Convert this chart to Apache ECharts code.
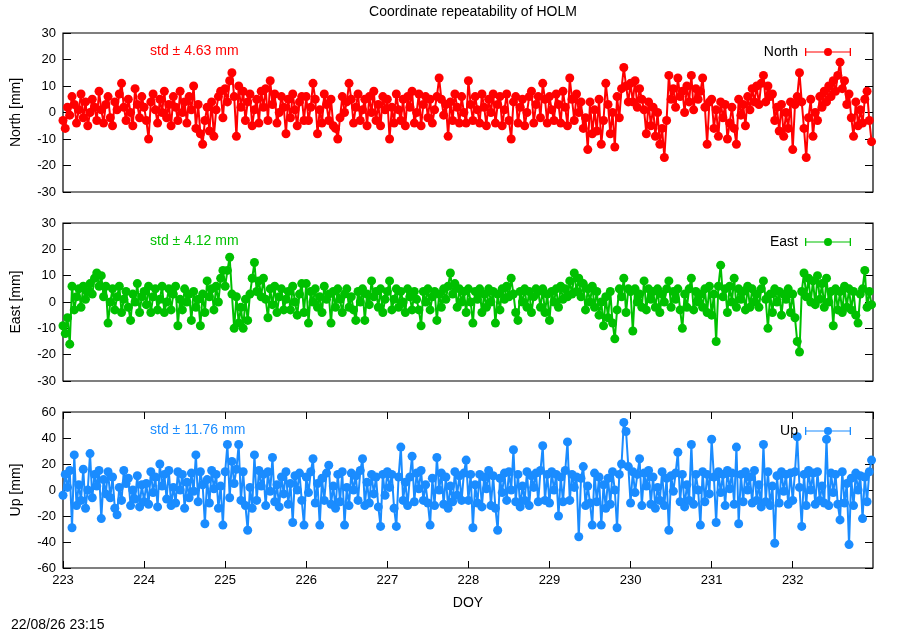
<!DOCTYPE html>
<html>
<head>
<meta charset="utf-8">
<script src="https://cdn.jsdelivr.net/npm/echarts@6/dist/echarts.min.js"></script>
<style>
  html, body { margin: 0; padding: 0; background: #fff; }
  #chart { width: 900px; height: 630px; }
</style>
</head>
<body>
<div id="chart"></div>
<script>
// DOY axis: 40-minute samples starting at day 223
var startDoy = 223;
var samplesPerDay = 36;
var dayTicks = [223, 224, 225, 226, 227, 228, 229, 230, 231, 232];

// North residuals [mm], one row per day
var north = [].concat(
  [-3, -6, 2, -1, 6, 3, -4, 1, 7, -2, 4, -5, 0, 5, 2, -3, 8, 1, -4, 3, 6, -2, -5, 4, 1, 7, 11, 2, -3, 5, 0, -5, 9, 3, -2, 6],
  [2, -3, -10, 4, 7, 1, -4, 5, 0, 8, -2, 3, -5, 6, 2, -3, 8, 0, 4, -4, 6, 1, 10, -6, 3, -8, -12, -3, 2, -7, 4, -9, 1, 6, 8, -2],
  [9, 4, 12, 15, 6, -9, 10, 2, 8, -3, 4, 7, -5, 1, 5, -4, 8, 2, 9, -3, 12, 3, 7, -4, 0, 6, 2, -8, 5, -2, 7, 1, -5, 4, 6, -3],
  [6, -3, 2, 11, 5, -8, 1, -4, 7, 3, -3, 5, -5, -6, -10, -2, 6, 0, 4, 11, 5, -4, 2, 7, -3, 1, 5, -5, 6, 0, 8, -3, 3, -5, 6, 1],
  [5, -10, 2, -4, 7, 1, -3, 5, -5, 6, 2, 8, -4, 0, 7, -5, 3, 6, -2, 5, -4, 1, 6, 13, 5, -1, 3, -9, 4, -3, 7, 2, -4, 6, 0, -4],
  [12, 3, -3, 6, 1, -4, 7, 2, -5, 5, 0, 7, -4, 3, 6, -5, 1, 7, -3, -10, 4, 6, -4, 2, 5, -5, 0, 6, 8, -4, 3, 6, -2, 11, 5, -4],
  [6, 1, -3, 7, 3, -4, 8, 2, -5, 13, 5, -3, 7, 0, 4, -6, -2, -14, 4, -8, 1, -7, 5, -12, -3, 11, 3, -8, 0, -13, 6, -2, 9, 17, 10, 4],
  [11, 4, 12, 2, 9, 5, 1, -8, 4, -5, 2, -9, 0, -12, -6, -17, -3, 14, 5, 9, 2, 13, 6, 8, 0, 10, 4, 14, 1, 9, 5, 8, 13, 2, -12, 4],
  [5, -6, 1, -9, 4, -2, 3, -10, -4, 2, -6, -12, 5, -1, 3, -5, 6, 1, 9, 4, 10, 3, 11, 14, 4, 10, 6, 7, -3, 2, -7, 3, -9, 0, -6, 4],
  [-14, 3, 6, 15, 4, -6, -17, -2, 5, -9, 0, -3, 6, 2, 8, 4, 10, 6, 12, 8, 14, 19, 9, 12, 3, 7, -2, -9, 4, -5, 1, -4, 5, 8, -3, -11]
);

// East residuals [mm]
var east = [].concat(
  [-9, -12, -6, -16, 6, -3, 2, 5, -2, 6, 1, 4, 7, 3, 9, 11, 6, 10, 2, 6, -8, 0, 5, -3, 2, 6, -4, 1, 4, -2, -7, 3, 0, 7, -4, 2],
  [4, -1, 6, -4, 2, 5, -3, 1, 6, -4, 0, 5, -3, 3, 6, -9, 1, -3, 5, 0, 3, -7, 4, -2, 1, -9, 3, -4, 8, 2, 5, -3, 6, 0, 9, 12],
  [6, 12, 17, 3, -10, 2, -8, -2, -10, 1, -7, 3, 9, 15, 4, 8, 2, 9, 1, -6, 5, -1, 6, -4, 2, 5, -3, 1, 4, -3, 6, 0, -5, 3, 7, -4],
  [7, -8, 4, 0, 5, -2, 2, -4, 6, 1, 3, -8, 4, -2, 5, 1, -4, 3, 5, -2, 2, -3, -7, 4, 0, 5, -7, 3, -1, 8, 2, 4, -2, 5, -4, 1],
  [4, 8, -3, 1, 5, -2, 4, 0, -4, 5, 2, -3, 4, 1, -3, -9, 4, 0, 5, -3, 2, 4, -7, 3, -2, 5, 1, 6, 11, 3, 7, -2, 5, 0, 4, -4],
  [5, 0, -8, 4, 1, 5, -4, 3, -2, 5, 0, 4, -8, 3, -3, 5, 1, 6, 2, 9, 3, -4, -7, 4, 0, 5, -2, 4, -4, 2, 5, 4, -2, 5, -4, 3],
  [-7, 4, 0, 5, -2, 6, 1, 5, 2, 8, 3, 11, 4, 9, 2, 7, -3, 5, 0, 6, -2, 4, -5, 0, -9, 2, -6, 4, -8, -14, -3, 5, 2, 9, -4, 5],
  [4, -11, 5, 0, 3, -2, 8, -3, 5, 1, 4, -2, 5, -4, 3, 0, 5, 8, -2, 4, 1, 5, -3, -10, 3, -2, 5, 9, -3, 4, 0, 3, -2, 5, -4, 6],
  [-5, 3, -15, 6, 14, 2, 5, -4, 6, 0, 9, -2, 5, 1, 4, -3, 6, -2, 5, 0, 3, -2, 5, 8, 1, -10, 3, -4, 5, 0, 4, -5, 3, 1, 5, -4],
  [3, -6, -15, -19, 4, 11, 2, 9, 0, 8, -1, 10, 1, 7, -2, 9, 0, 4, -9, 5, -3, 4, -4, 6, -2, 5, -3, 4, -5, -8, 3, 5, 12, -2, 4, -1]
);

// Up residuals [mm]
var up = [].concat(
  [-4, 12, 2, 15, -29, 27, -12, 4, -8, 16, -14, 0, 28, -6, 12, 3, 15, -22, 8, -3, 14, -6, 10, -14, -19, 2, -8, 15, 5, 9, -12, 0, -7, 11, -13, 4],
  [-9, 5, -11, 14, -2, 10, -13, 20, 3, 12, -7, 15, -12, 2, -10, 14, 0, 12, -14, 6, -6, 13, -1, 27, -9, 14, 4, -26, 8, -10, 15, 1, 12, -14, 3, -27],
  [14, 35, -6, 22, 5, 16, 35, -8, 14, -12, -31, 2, -14, 27, -8, 15, 3, 12, -12, 14, -1, 25, -9, 4, -13, 10, -3, 14, -11, 5, -25, 11, 0, 13, -8, -27],
  [10, -2, 14, 24, -10, 5, -27, 9, -8, 13, 19, -11, 3, -14, 12, -9, 14, -27, 2, -12, 13, 0, 11, -8, 15, 24, -12, 6, -10, 12, -3, 10, -13, -28, 12, -4],
  [14, 2, 12, -14, -28, 10, 33, -8, 6, -12, 10, 26, -9, 13, 1, 15, -8, 4, -10, -27, 9, -12, 25, 0, 13, -11, 10, -14, 3, -9, 14, -4, 11, -8, 13, 23],
  [-8, 12, -29, 4, -10, 12, -13, 10, 1, 15, -12, 11, -14, -31, 9, -2, 13, -8, 14, 0, 31, -9, 12, -13, 3, -8, 14, -12, 11, 2, 13, -9, 15, 34, -8, 12],
  [-10, 14, 0, 12, -20, 10, -9, 15, 37, -8, 12, 2, 10, -36, 9, 18, -12, 3, -10, -27, 13, -9, 10, -27, 4, -14, 9, -11, 14, 0, -29, 12, 20, 52, 45, 18],
  [-10, 14, -2, 12, 24, -12, 13, 3, 15, -11, 10, -14, 2, -8, 14, -12, 9, -31, 11, -1, 13, 29, -9, 12, -13, 4, -8, 35, -11, 12, 0, -27, 14, -9, 12, -3],
  [39, 10, -25, 14, -2, 12, -12, 15, 1, 13, -11, 33, -26, 12, -9, 14, 0, 10, -10, 15, -8, 4, -13, 35, -9, 14, -12, 3, -41, 11, -10, 14, -1, 12, -11, 13],
  [-8, 14, 41, 2, -28, 12, -12, 15, 0, 13, -11, 14, -8, 3, -10, 39, -12, 13, -2, 12, -11, -23, 14, -10, 5, -42, 9, -12, 13, 0, 11, -22, 10, -9, 14, 23]
);

var names = ['North', 'East', 'Up'];
var colors = ['#ff0000', '#00c000', '#1a8cff'];
var stds = ['4.63', '4.12', '11.76'];
var yLimits = [30, 30, 60];
var yIntervals = [10, 10, 20];

var font = 'Liberation Sans, Arial, sans-serif';
var panelTops = [33, 223, 412];
var panelHeights = [159, 158, 156];

function toPairs(values) {
  return values.map(function (v, i) {
    return [startDoy + i / samplesPerDay, v];
  });
}

var myChart = echarts.init(document.getElementById('chart'));

var grids = [], xAxes = [], yAxes = [], series = [], legends = [], titles = [];
var allData = [north, east, up];

// errorbar-like legend sample: line, end caps, dot
var errIcon = 'path://M0,4.4H46V5.6H0Z M0,1H1.3V9H0Z M44.7,1H46V9H44.7Z M19,5A4,4 0 1,1 27,5A4,4 0 1,1 19,5Z';

names.forEach(function (name, idx) {
  var last = idx === names.length - 1;
  grids.push({
    left: 63, width: 810, top: panelTops[idx], height: panelHeights[idx],
    show: true, borderColor: '#000', borderWidth: 1.2, backgroundColor: 'transparent'
  });
  xAxes.push({
    gridIndex: idx, type: 'value', min: dayTicks[0], max: 232.99, interval: 1,
    position: 'bottom',
    axisLine: { show: false, onZero: false },
    splitLine: { show: false },
    axisTick: { show: last, inside: true, length: 7, lineStyle: { color: '#000' } },
    axisLabel: {
      show: last, showMaxLabel: false, color: '#000', fontFamily: font, fontSize: 13, margin: 6,
      formatter: function (v) { return Math.round(v); }
    },
    name: last ? 'DOY' : '', nameLocation: 'middle', nameGap: 28,
    nameTextStyle: { color: '#000', fontFamily: font, fontSize: 14 }
  });
  yAxes.push({
    gridIndex: idx, type: 'value', min: -yLimits[idx], max: yLimits[idx], interval: yIntervals[idx],
    position: 'left',
    axisLine: { show: false, onZero: false }, splitLine: { show: false },
    axisTick: { show: true, inside: true, length: 8, lineStyle: { color: '#000' } },
    axisLabel: { color: '#000', fontFamily: font, fontSize: 13, margin: 7 },
    name: name + ' [mm]', nameLocation: 'middle', nameGap: 40, nameRotate: 90,
    nameTextStyle: { color: '#000', fontFamily: font, fontSize: 14 }
  });
  yAxes.push({
    gridIndex: idx, type: 'value', min: -yLimits[idx], max: yLimits[idx], interval: yIntervals[idx],
    position: 'right',
    axisLine: { show: false, onZero: false }, splitLine: { show: false },
    axisTick: { show: true, inside: true, length: 8, lineStyle: { color: '#000' } },
    axisLabel: { show: false }
  });
  series.push({
    name: name, type: 'line',
    xAxisIndex: idx, yAxisIndex: idx * 2,
    data: toPairs(allData[idx]),
    symbol: 'circle', symbolSize: 9, showSymbol: true, showAllSymbol: true,
    lineStyle: { color: colors[idx], width: 2 },
    itemStyle: { color: colors[idx] },
    emphasis: { disabled: true },
    clip: true
  });
  legends.push({
    data: [{ name: name, icon: errIcon }],
    right: 44, top: panelTops[idx] + 7, align: 'right',
    itemWidth: 46, itemHeight: 10, itemGap: 8,
    selectedMode: false,
    textStyle: { color: '#000', fontFamily: font, fontSize: 14, padding: [0, 2, 0, 0] }
  });
  titles.push({
    text: 'std \u00b1 ' + stds[idx] + ' mm',
    left: 145, top: panelTops[idx] + 6,
    textStyle: { color: colors[idx], fontFamily: font, fontSize: 14, fontWeight: 'normal' }
  });
});

// mirrored ticks on the top border of the last panel
xAxes.push({
  gridIndex: 2, type: 'value', min: dayTicks[0], max: 232.99, interval: 1,
  position: 'top',
  axisLine: { show: false, onZero: false }, splitLine: { show: false },
  axisTick: { show: true, inside: true, length: 7, lineStyle: { color: '#000' } },
  axisLabel: { show: false }
});

titles.push({
  text: 'Coordinate repeatability of HOLM',
  left: 468, top: 0, textAlign: 'center',
  textStyle: { color: '#000', fontFamily: font, fontSize: 14, fontWeight: 'normal' }
});
titles.push({
  text: '22/08/26 23:15',
  left: 6, top: 613,
  textStyle: { color: '#000', fontFamily: font, fontSize: 14, fontWeight: 'normal' }
});

var option = {
  backgroundColor: '#fff',
  animation: false,
  title: titles,
  legend: legends,
  grid: grids,
  xAxis: xAxes,
  yAxis: yAxes,
  series: series
};
myChart.setOption(option);
</script>
</body>
</html>
